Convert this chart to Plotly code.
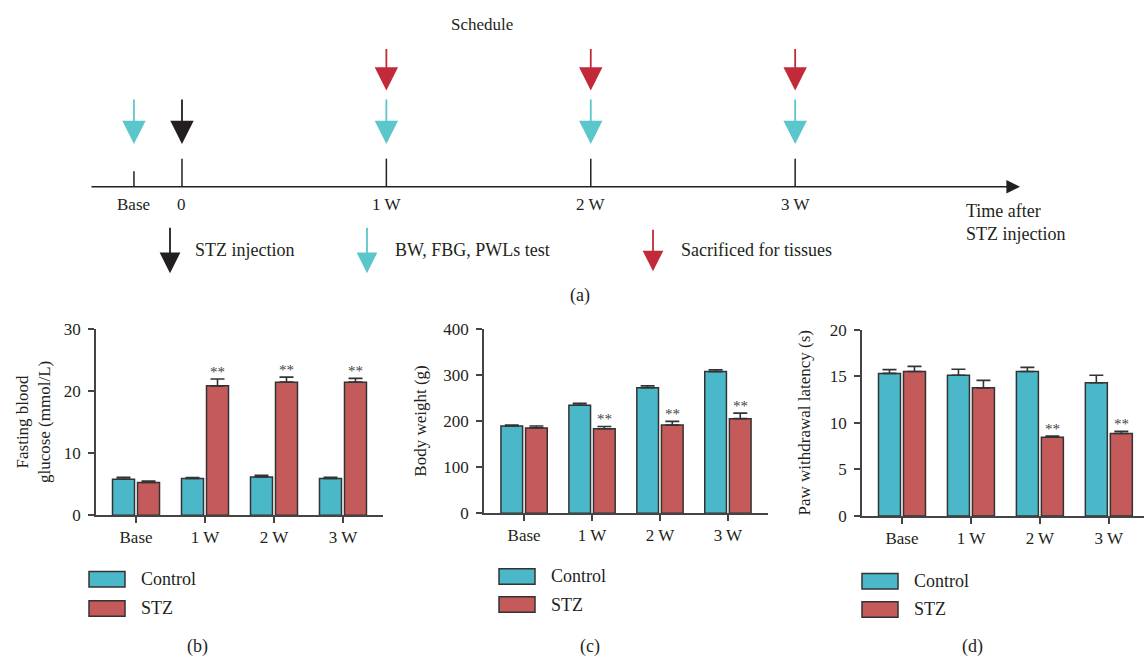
import plotly.graph_objects as go

# ---------------- data ----------------
categories = ["Base", "1 W", "2 W", "3 W"]

fbg_control = [5.8, 5.9, 6.15, 5.9]
fbg_control_err = [0.3, 0.15, 0.25, 0.2]
fbg_stz = [5.25, 20.8, 21.4, 21.4]
fbg_stz_err = [0.25, 1.1, 0.8, 0.6]
fbg_sig = [False, True, True, True]

bw_control = [189, 234, 272, 307]
bw_control_err = [2, 4, 4, 4]
bw_stz = [185, 183, 191, 205]
bw_stz_err = [4, 5, 8, 12]
bw_sig = [False, True, True, True]

pwl_control = [15.3, 15.1, 15.5, 14.3]
pwl_control_err = [0.4, 0.65, 0.45, 0.8]
pwl_stz = [15.5, 13.75, 8.45, 8.85]
pwl_stz_err = [0.55, 0.8, 0.12, 0.22]
pwl_sig = [False, False, True, True]

timeline_labels = ["Base", "0", "1 W", "2 W", "3 W"]
timeline_weeks = [-0.235, 0, 1, 2, 3]
test_weeks = [-0.235, 1, 2, 3]
injection_weeks = [0]
sacrifice_weeks = [1, 2, 3]

# ---------------- style ----------------
W, H = 1144, 669
FONT = "Liberation Serif"
C_CTRL = "#4AB8C9"
C_STZ = "#C45A5A"
C_EDGE = "#333333"
C_AX = "#444444"
A_CYAN = "#5CC6CD"
A_RED = "#C22A3A"
A_BLACK = "#231F20"
TXT = "#231F20"
FS_TICK = 17
FS_TEXT = 18


def px(x):
    return x / W


def py(y):
    return 1 - y / H


fig = go.Figure()

panels = [
    dict(ax="", ctrl=fbg_control, ce=fbg_control_err, stz=fbg_stz, se=fbg_stz_err, sig=fbg_sig),
    dict(ax="2", ctrl=bw_control, ce=bw_control_err, stz=bw_stz, se=bw_stz_err, sig=bw_sig),
    dict(ax="3", ctrl=pwl_control, ce=pwl_control_err, stz=pwl_stz, se=pwl_stz_err, sig=pwl_sig),
]

BARGAP = 0.275
stz_offset = (1 - BARGAP) / 4

annotations = []
shapes = []

for p in panels:
    xa, ya = "x" + p["ax"], "y" + p["ax"]
    for name, vals, errs, col in [("Control", p["ctrl"], p["ce"], C_CTRL), ("STZ", p["stz"], p["se"], C_STZ)]:
        fig.add_trace(go.Bar(
            x=categories, y=vals, name=name, xaxis=xa, yaxis=ya,
            marker=dict(color=col, line=dict(color=C_EDGE, width=1.5)),
            error_y=dict(type="data", array=errs, arrayminus=[0] * len(errs), symmetric=False,
                         color=C_EDGE, thickness=1.6, width=7),
            showlegend=False, offsetgroup=name,
        ))
    for i, s in enumerate(p["sig"]):
        if s:
            annotations.append(dict(
                x=i + stz_offset, y=p["stz"][i] + p["se"][i], xref=xa, yref=ya,
                text="**", showarrow=False, yanchor="middle", yshift=7,
                font=dict(family=FONT, size=15, color="#444444"),
            ))

axis_common = dict(showline=True, linecolor=C_AX, linewidth=1.5, ticks="outside",
                   tickcolor=C_AX, tickwidth=1.5, ticklen=6, showgrid=False, zeroline=False,
                   tickfont=dict(family=FONT, size=FS_TICK, color=TXT), fixedrange=True)

layout = dict(
    width=W, height=H, margin=dict(l=0, r=0, t=0, b=0),
    paper_bgcolor="white", plot_bgcolor="white",
    barmode="group", bargap=BARGAP, bargroupgap=0.12,
    showlegend=False,
    font=dict(family=FONT, color=TXT),
)

# panel (b)
layout["xaxis"] = dict(axis_common, domain=[px(96), px(383)], range=[-0.58, 3.58], anchor="y",
                       type="category")
layout["yaxis"] = dict(axis_common, domain=[py(521), py(329)], range=[0, 30], anchor="x",
                       tickvals=[0, 10, 20, 30], ticklabelstandoff=4,
                       title=dict(text="Fasting blood<br>glucose (mmol/L)", standoff=9,
                                  font=dict(family=FONT, size=FS_TICK, color=TXT)))
# panel (c)
layout["xaxis2"] = dict(axis_common, domain=[px(484), px(768)], range=[-0.59, 3.59], anchor="y2",
                        type="category")
layout["yaxis2"] = dict(axis_common, domain=[py(519), py(329)], range=[0, 400], anchor="x2",
                        tickvals=[0, 100, 200, 300, 400], ticklabelstandoff=4,
                        title=dict(text="Body weight (g)", standoff=12,
                                   font=dict(family=FONT, size=FS_TICK, color=TXT)))
# panel (d)
layout["xaxis3"] = dict(axis_common, domain=[px(862), px(1144)], range=[-0.58, 3.51], anchor="y3",
                        type="category")
layout["yaxis3"] = dict(axis_common, domain=[py(521.7), py(330)], range=[0, 20], anchor="x3",
                        tickvals=[0, 5, 10, 15, 20], ticklabelstandoff=4,
                        title=dict(text="Paw withdrawal latency (s)", standoff=15,
                                   font=dict(family=FONT, size=FS_TICK, color=TXT)))
# schedule axis (hidden), in weeks after STZ injection
layout["xaxis4"] = dict(domain=[px(90), px(1020)], range=[-0.45, 4.1], visible=False,
                        anchor="y4", fixedrange=True)
layout["yaxis4"] = dict(domain=[py(300), py(0)], range=[0, 1], visible=False,
                        anchor="x4", fixedrange=True)

fig.add_trace(go.Scatter(x=[None], y=[None], xaxis="x4", yaxis="y4", showlegend=False))

# ---------- schedule (a) ----------
LINE_Y = 183
# main time axis arrow
annotations.append(dict(
    x=4.1, y=py(LINE_Y), xref="x4", yref="paper",
    ax=-0.45, ay=0, axref="x4", ayref="pixel",
    showarrow=True, arrowhead=2, arrowsize=1.7, arrowwidth=1.6, arrowcolor=A_BLACK,
    text="", standoff=0,
))
# tick marks and labels
for lab, wk in zip(timeline_labels, timeline_weeks):
    top = 167 if lab == "Base" else 154
    shapes.append(dict(type="line", xref="x4", yref="paper", x0=wk, x1=wk,
                       y0=py(LINE_Y), y1=py(top), line=dict(color=A_BLACK, width=1.5)))
    annotations.append(dict(x=wk, y=py(201), xref="x4", yref="paper", text=lab,
                            showarrow=False, xanchor="center", yanchor="middle",
                            font=dict(family=FONT, size=FS_TICK, color=TXT)))


def event_arrow(wk, tip, length, color):
    return dict(x=wk, y=py(tip), xref="x4", yref="paper", ax=0, ay=-length,
                axref="pixel", ayref="pixel", showarrow=True, arrowhead=2,
                arrowsize=2.6, arrowwidth=1.8, arrowcolor=color, text="", standoff=0)


for wk in test_weeks:
    annotations.append(event_arrow(wk, 139, 46, A_CYAN))
for wk in injection_weeks:
    annotations.append(event_arrow(wk, 139, 46, A_BLACK))
for wk in sacrifice_weeks:
    annotations.append(event_arrow(wk, 84, 43, A_RED))


def legend_arrow(x, tip, length, color):
    return dict(x=px(x), y=py(tip), xref="paper", yref="paper", ax=0, ay=-length,
                axref="pixel", ayref="pixel", showarrow=True, arrowhead=2,
                arrowsize=2.3, arrowwidth=1.8, arrowcolor=color, text="", standoff=0)


annotations.append(legend_arrow(170, 272, 47, A_BLACK))
annotations.append(legend_arrow(367, 272, 47, A_CYAN))
annotations.append(legend_arrow(653, 270, 43, A_RED))
for x, t in [(193, "STZ injection"), (393, "BW, FBG, PWLs test"), (679, "Sacrificed for tissues")]:
    annotations.append(dict(x=px(x), y=py(248), xref="paper", yref="paper", text=t,
                            showarrow=False, xanchor="left", yanchor="middle",
                            font=dict(family=FONT, size=FS_TEXT, color=TXT)))

annotations.append(dict(x=px(482), y=py(16), xref="paper", yref="paper", text="Schedule",
                        showarrow=False, xanchor="center", yanchor="middle",
                        font=dict(family=FONT, size=FS_TICK, color=TXT)))
annotations.append(dict(x=px(964), y=py(220), xref="paper", yref="paper",
                        text="Time after<br>STZ injection", align="left",
                        showarrow=False, xanchor="left", yanchor="middle",
                        font=dict(family=FONT, size=FS_TEXT, color=TXT)))
annotations.append(dict(x=px(580), y=py(295), xref="paper", yref="paper", text="(a)",
                        showarrow=False, xanchor="center", yanchor="middle",
                        font=dict(family=FONT, size=FS_TEXT, color=TXT)))

# ---------- panel legends and labels ----------
legend_specs = [
    (89, 579, 609, 197, "(b)"),
    (499, 576, 605, 590, "(c)"),
    (862, 581, 610, 972, "(d)"),
]
for lx, y1, y2, labx, lab in legend_specs:
    for yy, col, t in [(y1, C_CTRL, "Control"), (y2, C_STZ, "STZ")]:
        shapes.append(dict(type="rect", xref="paper", yref="paper",
                           x0=px(lx), x1=px(lx + 36), y0=py(yy), y1=py(yy + 16),
                           fillcolor=col, line=dict(color=C_EDGE, width=1.5)))
        annotations.append(dict(x=px(lx + 50), y=py(yy + 8), xref="paper", yref="paper",
                                text=t, showarrow=False, xanchor="left", yanchor="middle",
                                font=dict(family=FONT, size=FS_TEXT, color=TXT)))
    annotations.append(dict(x=px(labx), y=py(656), xref="paper", yref="paper", text=lab,
                            showarrow=False, xanchor="center", yanchor="middle",
                            font=dict(family=FONT, size=FS_TEXT, color=TXT)))

layout["annotations"] = annotations
layout["shapes"] = shapes
fig.update_layout(**layout)

fig.write_html("out.html", config=dict(displayModeBar=False),
               post_script="document.body.style.margin='0';document.body.style.overflow='hidden';")
